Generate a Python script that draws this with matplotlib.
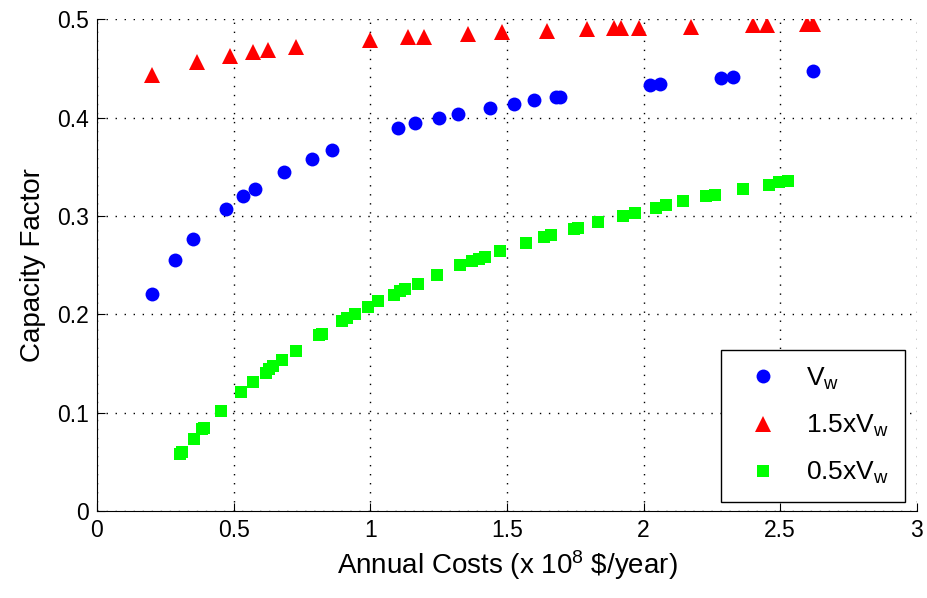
import matplotlib
matplotlib.use('Agg')
import matplotlib.pyplot as plt

plt.rcParams['font.family'] = ['Liberation Sans', 'DejaVu Sans']
plt.rcParams['mathtext.fontset'] = 'custom'
plt.rcParams['mathtext.rm'] = 'Liberation Sans'
plt.rcParams['mathtext.it'] = 'Liberation Sans'

# Vw series
cost_vw = [0.200, 0.285, 0.352, 0.473, 0.536, 0.577, 0.684, 0.786, 0.860,
           1.101, 1.164, 1.252, 1.321, 1.437, 1.526, 1.600, 1.681, 1.693,
           2.024, 2.061, 2.285, 2.329, 2.620]
cf_vw = [0.221, 0.255, 0.276, 0.307, 0.320, 0.327, 0.345, 0.358, 0.367,
         0.389, 0.394, 0.400, 0.404, 0.410, 0.414, 0.418, 0.421, 0.421,
         0.433, 0.434, 0.440, 0.441, 0.447]

# 1.5 x Vw series
cost_hi = [0.200, 0.366, 0.487, 0.572, 0.627, 0.729, 1.000, 1.139, 1.196,
           1.356, 1.482, 1.647, 1.793, 1.893, 1.917, 1.985, 2.174, 2.400,
           2.453, 2.597, 2.619]
cf_hi = [0.443, 0.456, 0.463, 0.467, 0.469, 0.472, 0.479, 0.482, 0.482,
         0.485, 0.487, 0.488, 0.490, 0.491, 0.491, 0.491, 0.492, 0.494,
         0.494, 0.495, 0.495]

# 0.5 x Vw series
cost_lo = [0.305, 0.312, 0.354, 0.384, 0.391, 0.454, 0.528, 0.571, 0.617,
           0.630, 0.645, 0.678, 0.729, 0.812, 0.822, 0.895, 0.915, 0.944,
           0.993, 1.029, 1.085, 1.107, 1.127, 1.174, 1.244, 1.327, 1.372,
           1.397, 1.420, 1.476, 1.569, 1.637, 1.661, 1.747, 1.760, 1.832,
           1.924, 1.968, 2.046, 2.083, 2.145, 2.229, 2.262, 2.365, 2.460,
           2.494, 2.527]
cf_lo = [0.058, 0.060, 0.073, 0.083, 0.084, 0.102, 0.121, 0.131, 0.140,
         0.144, 0.147, 0.153, 0.163, 0.179, 0.180, 0.193, 0.196, 0.200,
         0.207, 0.213, 0.220, 0.224, 0.226, 0.231, 0.240, 0.250, 0.254,
         0.256, 0.258, 0.264, 0.272, 0.279, 0.281, 0.287, 0.288, 0.294,
         0.300, 0.303, 0.308, 0.311, 0.315, 0.320, 0.321, 0.327, 0.331,
         0.334, 0.335]

xticks = [0, 0.5, 1, 1.5, 2, 2.5, 3]
yticks = [0, 0.1, 0.2, 0.3, 0.4, 0.5]

fig = plt.figure(figsize=(9.28, 5.98), dpi=100)
ax = fig.add_axes([0.1045, 0.1455, 0.8835, 0.8225])

ax.plot(cost_vw, cf_vw, 'o', color=(0, 0, 1), markersize=10, markeredgewidth=0,
        label=r'V$_\mathregular{w}$')
ax.plot(cost_hi, cf_hi, '^', color=(1, 0, 0), markersize=11.5, markeredgewidth=0,
        label=r'1.5xV$_\mathregular{w}$')
ax.plot(cost_lo, cf_lo, 's', color=(0, 1, 0), markersize=8, markeredgewidth=0,
        label=r'0.5xV$_\mathregular{w}$')

ax.set_xlim(0, 3)
ax.set_ylim(0, 0.5)
ax.set_xticks(xticks)
ax.set_xticklabels(['0', '0.5', '1', '1.5', '2', '2.5', '3'])
ax.set_yticks(yticks)
ax.set_yticklabels(['0', '0.1', '0.2', '0.3', '0.4', '0.5'])
ax.tick_params(direction='in', length=6, labelsize=16.5, pad=6)
ax.grid(True, linestyle=(0, (1, 5.5)), color='black', linewidth=1.0)
ax.set_axisbelow(True)
ax.spines['top'].set_visible(False)
ax.spines['right'].set_visible(False)

ax.set_xlabel(r'Annual Costs (x 10$^\mathregular{8}$ \$/year)', fontsize=20, labelpad=4)
ax.set_ylabel('Capacity Factor', fontsize=20, labelpad=8)

leg = ax.legend(loc='lower right', bbox_to_anchor=(0.985, 0.018), fontsize=19,
                fancybox=False, edgecolor='black', framealpha=1,
                borderaxespad=0, handletextpad=0.6, labelspacing=0.8,
                borderpad=0.6)
leg.get_frame().set_linewidth(1.0)

fig.savefig('out.png', dpi=100)
